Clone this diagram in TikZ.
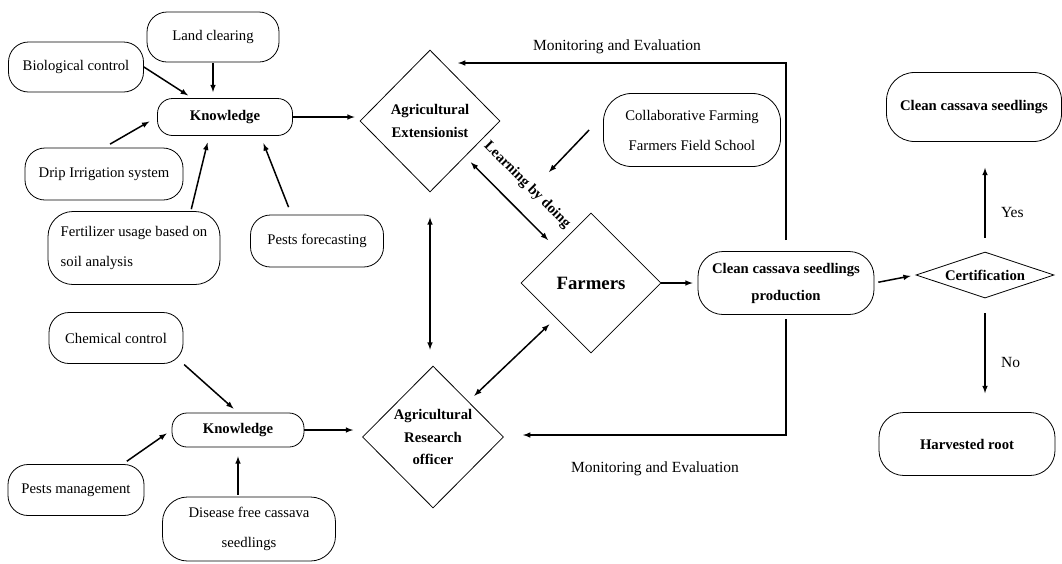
\documentclass[tikz,border=0pt]{standalone}
\usepackage{fontspec}
\setmainfont{Liberation Serif}
\usetikzlibrary{shapes.geometric}

\begin{document}
\begin{tikzpicture}[x=1pt,y=-1pt,
  box/.style={draw=black, line width=0.8pt, rounded corners=20pt, align=center, inner sep=2pt, font=\fontsize{14.7}{30}\selectfont},
  boldbox/.style={box, font=\fontsize{14.7}{27}\selectfont\bfseries},
  diam/.style={draw=black, line width=0.8pt, diamond, inner sep=0pt, align=center, font=\fontsize{14.7}{22.5}\selectfont\bfseries},
  arr/.style={-latex, line width=1.5pt},
  darr/.style={latex-latex, line width=1.5pt},
  lbl/.style={font=\fontsize{15.5}{18}\selectfont}]
  \useasboundingbox (0,0) rectangle (1062,563);

  \node[box, minimum width=132pt, minimum height=50pt](landclearing) at (213,37) {Land clearing};
  \node[box, minimum width=135pt, minimum height=50pt](biocontrol)   at (76,67)  {Biological control};
  \node[boldbox, rounded corners=15pt, minimum width=135pt, minimum height=37pt](knowledge) at (225,117) {Knowledge};
  \node[box, minimum width=158pt, minimum height=52pt](drip)         at (104,174) {Drip Irrigation system};
  \node[box, rounded corners=25pt, align=left, minimum width=172pt, minimum height=73pt](fertilizer) at (134,248) {Fertilizer usage based on\\soil analysis};
  \node[box, minimum width=133pt, minimum height=52pt](pestsforecast) at (317,241) {Pests forecasting};

  \node[box, minimum width=134pt, minimum height=51pt](chemical)  at (116,338) {Chemical control};
  \node[boldbox, rounded corners=15pt, minimum width=132pt, minimum height=34pt](knowledgetwo) at (238,430) {Knowledge};
  \node[box, minimum width=136pt, minimum height=51pt](pestsmgmt) at (76,490)  {Pests management};
  \node[box, rounded corners=25pt, minimum width=173pt, minimum height=64pt](diseasefree) at (249,529) {Disease free cassava\\seedlings};

  \node[diam, minimum width=140pt, minimum height=142pt](extensionist) at (430,121) {Agricultural\\Extensionist};
  \node[diam, minimum width=141pt, minimum height=142pt](research)     at (433,437) {Agricultural\\Research\\officer};
  \node[diam, minimum width=140pt, minimum height=140pt, font=\fontsize{18.8}{22}\selectfont\bfseries](farmers) at (591,283) {Farmers};
  \node[box, rounded corners=28pt, minimum width=177pt, minimum height=73pt](collab) at (692,130) {Collaborative Farming\\Farmers Field School};

  \node[boldbox, rounded corners=25pt, minimum width=176pt, minimum height=63pt](production) at (786,283) {Clean cassava seedlings\\production};
  \node[diam, aspect=3, minimum width=138pt, minimum height=46pt](certification) at (985,275) {Certification};
  \node[boldbox, rounded corners=28pt, minimum width=175pt, minimum height=69pt](seedlings) at (974,107) {Clean cassava seedlings};
  \node[boldbox, rounded corners=25pt, minimum width=176pt, minimum height=63pt](harvested) at (967,444) {Harvested root};

  \node[lbl](monitortop)    at (617,47)  {Monitoring and Evaluation};
  \node[lbl](monitorbottom) at (655,469) {Monitoring and Evaluation};
  \node[font=\fontsize{14.7}{17}\selectfont\bfseries, rotate=-45](learning) at (527,185) {Learning by doing};

  \coordinate (doingtip) at (549,172);
  \coordinate (exttip)   at (458,63);
  \coordinate (restip)   at (523,435);

  \draw[arr, shorten <=1pt, shorten >=6pt] (landclearing.south) -- (landclearing.south |- knowledge.north);
  \draw[arr, shorten >=5pt] (biocontrol.east) -- (knowledge.150);
  \draw[arr, shorten <=7pt, shorten >=9pt] (drip.north) -- (knowledge.west);
  \draw[arr, shorten <=2pt, shorten >=7pt] (fertilizer.33) -- (knowledge.230);
  \draw[arr, shorten <=8pt, shorten >=8pt] (pestsforecast.134) -- (knowledge.-28);
  \draw[arr, shorten >=5pt] (knowledge.east) -- (knowledge.east -| extensionist.west);

  \draw[arr, shorten <=1pt, shorten >=6pt] (chemical.south east) -- (knowledgetwo.north);
  \draw[arr, shorten <=5pt, shorten >=6pt] (pestsmgmt.29) -- (knowledgetwo.west);
  \draw[arr, shorten <=2pt, shorten >=9pt] (knowledgetwo.south |- diseasefree.north) -- (knowledgetwo.south);
  \draw[arr, shorten >=9pt] (knowledgetwo.east) -- (knowledgetwo.east -| research.west);

  \draw[darr, shorten <=25pt, shorten >=16pt] (extensionist.south) -- (extensionist.south |- research.north);
  \draw[darr, shorten <=8pt, shorten >=11pt] (extensionist.south east) -- (farmers.north west);
  \draw[darr, shorten <=8pt, shorten >=9pt] (research.north east) -- (farmers.south west);
  \draw[arr] ([xshift=-14pt]collab.west) -- (doingtip);

  \draw[arr, shorten >=5pt] (farmers.east) -- (production.west);
  \draw[arr, shorten <=4pt, shorten >=5pt] (production.east) -- (certification.west);
  \draw[arr, shorten <=14pt, shorten >=26pt] (certification.north) -- (certification.north |- seedlings.south) node[lbl, pos=.36, right=12pt](yes) {Yes};
  \draw[arr, shorten <=15pt, shorten >=19pt] (certification.south) -- (certification.south |- harvested.north) node[lbl, pos=.56, right=12pt](no) {No};

  \draw[arr, shorten <=11pt] (production.north) |- (exttip);
  \draw[arr, shorten <=4pt] (production.south) |- (restip);
\end{tikzpicture}
\end{document}
